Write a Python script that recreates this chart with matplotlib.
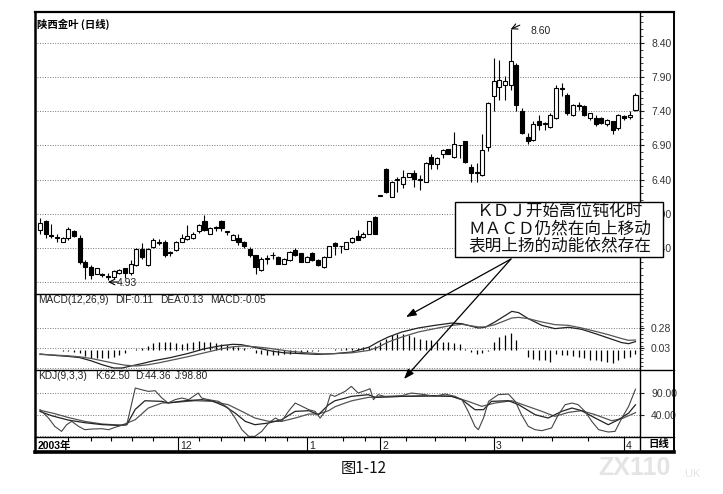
import matplotlib
matplotlib.use('Agg')
import matplotlib.pyplot as plt
from matplotlib.patches import Rectangle, FancyArrowPatch
from matplotlib.lines import Line2D
from matplotlib.ticker import MultipleLocator
import numpy as np

plt.rcParams['font.family'] = ['Liberation Sans', 'Noto Sans CJK SC', 'DejaVu Sans']

# ---------------- data ----------------
title_text = '陕西金叶 (日线)'
opens = [5.66, 5.79, 5.58, 5.55, 5.49, 5.54, 5.64, 5.54, 5.20, 5.12,
         5.02, 5.01, 4.99, 4.98, 5.03, 5.10, 5.03, 5.15, 5.39, 5.15,
         5.41, 5.47, 5.49, 5.33, 5.37, 5.49, 5.53, 5.54, 5.64, 5.79,
         5.61, 5.69, 5.79, 5.63, 5.52, 5.54, 5.49, 5.39, 5.29, 5.07,
         5.24, 5.29, 5.27, 5.17, 5.22, 5.37, 5.32, 5.20, 5.32, 5.22,
         5.12, 5.27, 5.47, 5.42, 5.39, 5.48, 5.57, 5.56, 5.61, 5.85,
         6.16, 6.56, 6.15, 6.39, 6.34, 6.44, 6.50, 6.39, 6.37, 6.73,
         6.63, 6.78, 6.84, 6.73, 6.90, 6.96, 6.58, 6.51, 6.46, 6.88,
         7.62, 7.76, 7.79, 7.79, 8.08, 7.40, 7.03, 6.98, 7.25, 7.21,
         7.17, 7.30, 7.73, 7.64, 7.35, 7.49, 7.47, 7.30, 7.30, 7.30,
         7.21, 7.25, 7.15, 7.33, 7.31, 7.42]
highs = [5.84, 5.81, 5.75, 5.61, 5.56, 5.71, 5.66, 5.59, 5.22, 5.15,
         5.11, 5.03, 5.03, 5.08, 5.09, 5.11, 5.22, 5.40, 5.47, 5.40,
         5.54, 5.53, 5.51, 5.36, 5.50, 5.61, 5.74, 5.63, 5.75, 5.88,
         5.71, 5.72, 5.81, 5.64, 5.60, 5.61, 5.50, 5.41, 5.30, 5.26,
         5.29, 5.34, 5.28, 5.25, 5.36, 5.40, 5.33, 5.28, 5.34, 5.23,
         5.28, 5.43, 5.49, 5.43, 5.49, 5.56, 5.66, 5.63, 5.80, 5.86,
         6.16, 6.57, 6.38, 6.44, 6.54, 6.50, 6.54, 6.46, 6.65, 6.78,
         6.73, 6.85, 6.85, 7.09, 6.91, 6.97, 6.63, 6.64, 7.07, 7.53,
         8.18, 8.15, 7.91, 8.60, 8.10, 7.45, 7.08, 7.26, 7.35, 7.24,
         7.37, 7.79, 7.81, 7.66, 7.51, 7.54, 7.49, 7.38, 7.35, 7.31,
         7.29, 7.26, 7.36, 7.34, 7.41, 7.66]
lows = [5.61, 5.55, 5.55, 5.49, 5.48, 5.52, 5.56, 5.17, 4.95, 4.95,
        5.01, 4.98, 4.93, 4.95, 5.02, 4.96, 5.00, 5.13, 5.24, 5.14,
        5.40, 5.44, 5.27, 5.28, 5.36, 5.48, 5.52, 5.53, 5.62, 5.64,
        5.60, 5.65, 5.65, 5.59, 5.51, 5.44, 5.40, 5.27, 5.02, 5.06,
        5.17, 5.24, 5.16, 5.16, 5.21, 5.28, 5.19, 5.19, 5.21, 5.13,
        5.11, 5.26, 5.29, 5.32, 5.38, 5.47, 5.51, 5.55, 5.60, 5.60,
        6.16, 6.20, 6.14, 6.22, 6.27, 6.43, 6.29, 6.24, 6.36, 6.56,
        6.56, 6.72, 6.77, 6.71, 6.71, 6.64, 6.37, 6.37, 6.45, 6.82,
        7.40, 7.57, 7.57, 7.71, 7.40, 7.06, 6.92, 6.96, 7.13, 7.13,
        7.16, 7.28, 7.62, 7.35, 7.33, 7.42, 7.33, 7.27, 7.18, 7.21,
        7.19, 7.07, 7.12, 7.27, 7.29, 7.41]
closes = [5.76, 5.61, 5.57, 5.55, 5.55, 5.67, 5.57, 5.20, 5.12, 5.00,
          5.10, 5.00, 4.98, 5.06, 5.08, 5.03, 5.17, 5.39, 5.27, 5.39,
          5.51, 5.47, 5.29, 5.32, 5.49, 5.54, 5.57, 5.61, 5.74, 5.66,
          5.69, 5.695, 5.69, 5.63, 5.59, 5.49, 5.42, 5.29, 5.12, 5.24,
          5.24, 5.29, 5.17, 5.24, 5.34, 5.29, 5.20, 5.27, 5.22, 5.15,
          5.27, 5.42, 5.42, 5.42, 5.48, 5.54, 5.52, 5.61, 5.79, 5.61,
          6.16, 6.22, 6.37, 6.40, 6.44, 6.49, 6.41, 6.39, 6.64, 6.63,
          6.72, 6.83, 6.78, 6.92, 6.90, 6.66, 6.49, 6.49, 6.83, 7.52,
          7.84, 7.86, 7.84, 8.13, 7.49, 7.08, 6.96, 7.22, 7.20, 7.22,
          7.35, 7.74, 7.74, 7.37, 7.49, 7.47, 7.35, 7.37, 7.22, 7.23,
          7.27, 7.13, 7.35, 7.30, 7.34, 7.64]

price_ticks = [5.40, 5.90, 6.40, 6.90, 7.40, 7.90, 8.40]
price_grid = [4.90, 5.40, 5.90, 6.40, 6.90, 7.40, 7.90, 8.40]

macd_hist = [0.01, 0.01, 0.0, 0.0, -0.005, -0.01, -0.015, -0.03, -0.07, -0.09,
             -0.10, -0.10, -0.095, -0.085, -0.06, -0.03, 0.0, 0.02, 0.03, 0.05,
             0.09, 0.11, 0.10, 0.10, 0.09, 0.085, 0.095, 0.11, 0.115, 0.11,
             0.10, 0.095, 0.08, 0.07, 0.055, 0.04, 0.025, 0.0, -0.03, -0.05,
             -0.06, -0.06, -0.055, -0.05, -0.04, -0.03, -0.02, -0.015, -0.01, -0.005,
             0.0, 0.01, 0.02, 0.02, 0.03, 0.03, 0.035, 0.04, 0.045, 0.06,
             0.10, 0.145, 0.19, 0.205, 0.205, 0.19, 0.165, 0.145, 0.135, 0.125,
             0.11, 0.104, 0.10, 0.095, 0.08, 0.02, -0.02, -0.04, -0.033, -0.01,
             0.11, 0.17, 0.195, 0.22, 0.125, 0.0, -0.08, -0.11, -0.125, -0.125,
             -0.145, -0.05, -0.055, -0.06, -0.075, -0.083, -0.10, -0.115, -0.125, -0.137,
             -0.15, -0.155, -0.125, -0.095, -0.083, -0.05]
dif_x = [1, 4, 6, 8, 10, 12, 14, 15.5, 17, 19, 21, 24, 27, 30, 33, 35, 36.5, 38, 40, 42,
         44, 47, 50, 53, 56, 59, 60.6, 62.4, 64.8, 67.7, 70.6, 73.6, 75.4, 76.5, 78.3,
         79.5, 81.2, 84.2, 85.4, 87.1, 89.5, 91.8, 94.2, 96.5, 98.9, 101.2, 103.6, 104.8, 106]
dif_v = [-0.045, -0.065, -0.075, -0.09, -0.13, -0.18, -0.22, -0.22, -0.195, -0.165, -0.13,
         -0.09, -0.04, 0.02, 0.06, 0.076, 0.072, 0.05, 0.02, -0.01, -0.03, -0.04, -0.05,
         -0.04, -0.02, 0.04, 0.105, 0.167, 0.23, 0.28, 0.313, 0.342, 0.334, 0.313, 0.28,
         0.289, 0.355, 0.488, 0.472, 0.397, 0.313, 0.272, 0.289, 0.264, 0.21, 0.155, 0.097,
         0.084, 0.11]
dea_x = [1, 4, 6, 8, 10, 12, 14, 16, 18, 20, 22, 24, 27, 30, 33, 35, 37, 39, 41, 43, 45,
         48, 51, 53, 56, 59, 60.6, 62.4, 64.8, 67.7, 70.6, 73.6, 75.4, 76.5, 78.3, 79.5,
         81.2, 84.2, 85.4, 87.1, 89.5, 91.8, 94.2, 96.5, 98.9, 101.2, 103.6, 104.8, 106]
dea_v = [-0.05, -0.06, -0.068, -0.08, -0.10, -0.13, -0.16, -0.185, -0.195, -0.18, -0.155,
         -0.125, -0.08, -0.03, 0.02, 0.045, 0.055, 0.045, 0.03, 0.01, -0.01, -0.03, -0.045,
         -0.04, -0.03, 0.0, 0.04, 0.105, 0.167, 0.23, 0.272, 0.313, 0.326, 0.313, 0.293,
         0.293, 0.322, 0.405, 0.413, 0.397, 0.355, 0.322, 0.313, 0.28, 0.239, 0.197, 0.147,
         0.126, 0.13]
macd_ticks = [0.03, 0.28]
macd_grid = [-0.22, 0.03, 0.28]

k_x = [1, 3.1, 6, 8.9, 11.9, 14.8, 16.3, 17.8, 19.5, 22.5, 23.6, 26.6, 29.5, 31.3, 33.6,
       35.4, 37.2, 38.9, 41.3, 43.6, 46, 48.4, 50.1, 51.9, 53, 54.8, 55.9, 58.9, 60.1,
       64.8, 70.6, 73.6, 75.4, 77.7, 79.2, 80.6, 83.6, 85.4, 88.3, 90.6, 93, 94.8, 96.5,
       98.9, 101.2, 103, 104.8, 106]
k_v = [47, 37, 27, 21, 16.5, 14.8, 16.3, 52, 72, 70.6, 66.7, 72.1, 74.5, 72.1, 59.0,
       43.4, 24.1, 16.3, 20.2, 27.9, 47.3, 48.9, 39.6, 62.8, 72.0, 78.0, 82.2, 86.1, 79.9,
       82.2, 83.8, 82.2, 74.5, 51.2, 51.2, 70.6, 72.1, 62.8, 39.6, 31.8, 47.3, 55.1, 48.9,
       31.8, 16.3, 27.9, 43.4, 62.5]
d_x = [1, 3.6, 6, 8.9, 11.9, 15.4, 17.8, 20.1, 22.5, 24.8, 28.4, 31.3, 34.2, 36.6, 38.9,
       41.3, 43.6, 46, 48.4, 50.1, 51.9, 53, 54.8, 56, 58.9, 64.8, 70.6, 73.6, 76.5, 78.9,
       81.2, 84.2, 86.5, 89.5, 91.8, 94.2, 96.5, 98.9, 101.8, 103.6, 106]
d_v = [50, 42, 33, 24, 18, 15, 28, 55.1, 66.7, 68.3, 72.1, 70.6, 62.8, 47.3, 31.8, 24.1,
       24.1, 31.8, 41.1, 41.1, 48.9, 58.0, 66.7, 72.0, 79.9, 82.2, 83.0, 82.2, 70.6, 59.0,
       66.7, 72.1, 61.3, 47.3, 35.7, 45.0, 48.9, 39.6, 25.6, 30.3, 44.36]
j_x = [1, 2.5, 3.6, 4.8, 5.7, 6.6, 7.8, 8.9, 10.1, 11.9, 13.1, 14.2, 15.4, 16.3, 17.8,
       18.9, 20.1, 21.3, 22.5, 23.6, 24.8, 26, 27.2, 28.9, 29.5, 30.7, 32.5, 34.2, 35.4,
       36.6, 37.8, 38.9, 40.1, 41.3, 42.5, 43.6, 44.8, 46, 47.2, 48.4, 49.5, 50.4, 51.3,
       52.2, 53, 54.8, 55.9, 57.1, 58.3, 59.2, 59.8, 60.6, 61.8, 64.8, 66.5, 68.9, 70.6,
       72.4, 74.2, 75.4, 76.5, 77.7, 78.3, 79.2, 80.1, 81.8, 83.6, 84.8, 85.9, 87.1, 88.3,
       89.5, 91.2, 92.4, 93.6, 94.8, 95.9, 97.1, 98.3, 99.5, 101.2, 102.4, 103.6, 104.8, 106]
j_v = [51.2, 31.8, 12.4, 0.8, 16.3, 24.1, 12.4, 4.7, 6.2, 7.0, 4.7, 10.1, 14.8, 16.3,
       101.6, 97.7, 93.8, 95.4, 78.3, 66.7, 74.5, 78.3, 74.5, 90.0, 78.3, 74.5, 70.6, 55.1,
       31.8, 4.7, -10.8, -10.8, 0.8, 20.2, 31.8, 24.1, 47.3, 66.7, 59.0, 51.2, 47.3, 31.8,
       47.3, 86.1, 82.2, 93.8, 105.5, 90.0, 95.4, 100.0, 74.5, 86.1, 82.2, 83.8, 90.0, 86.1,
       82.2, 87.6, 82.2, 74.5, 47.3, 12.4, 4.7, 31.8, 70.6, 86.1, 87.6, 70.6, 39.6, 12.4,
       4.7, 2.4, 8.6, 39.6, 62.8, 66.7, 62.8, 47.3, 24.1, 4.7, -0.7, 0.8, 31.8, 59.0, 98.8]
kdj_ticks = [40, 90]
kdj_grid = [-10, 40, 90]

month_pos = [25.4, 48.1, 61, 81, 103.9]
month_labels = ['12', '1', '2', '3', '4']
week_pos = [6, 10, 13.5, 17.2, 21, 29, 33, 37, 40.7, 44.5, 54.5, 58.3, 65.6, 70.6, 76,
            86, 91.2, 97.7]

# ---------------- figure ----------------
W, H = 723, 494
fig = plt.figure(figsize=(W / 100, H / 100), dpi=100)
fig.patch.set_facecolor('white')


def fx(px):
    return px / W


def fy(py):
    return 1 - py / H


L_PX, R_PX = 37, 640


def add_ax(top, bottom):
    ax = fig.add_axes([fx(L_PX), fy(bottom), (R_PX - L_PX) / W, (bottom - top) / H])
    for s in ax.spines.values():
        s.set_visible(False)
    ax.set_facecolor('none')
    return ax


XLIM = (0.47, 106.8)
idx = np.arange(1, len(closes) + 1)
gridkw = dict(color='#777777', lw=0.7, ls=(0, (1, 1.6)), zorder=1)
tickkw = dict(labelsize=7.5, labelcolor='#333333', colors='#222222')

# price panel
axp = add_ax(12, 293)
axp.set_xlim(*XLIM)
axp.set_ylim(4.739, 8.853)
for g in price_grid:
    axp.axhline(g, **gridkw)
o = np.array(opens); c = np.array(closes); h = np.array(highs); l = np.array(lows)
up = c >= o
axp.vlines(idx, l, h, colors='black', lw=0.8, zorder=2)
axp.bar(idx, np.maximum(np.abs(c - o), 0.012), bottom=np.minimum(o, c), width=0.72,
        color=['white' if u else 'black' for u in up], edgecolor='black', linewidth=0.8,
        zorder=3)
axp.set_xticks([])
axp.yaxis.tick_right()
axp.set_yticks(price_ticks)
axp.set_yticklabels([f'{t:.2f}' for t in price_ticks])
axp.yaxis.set_minor_locator(MultipleLocator(0.1))
axp.tick_params(axis='y', which='major', length=3, pad=5, **tickkw)
axp.tick_params(axis='y', which='minor', length=2, colors='#222222')
axp.text(0.0, 0.975, title_text, transform=axp.transAxes, fontsize=7.5,
         fontweight='bold', va='top', ha='left',
         family=['Noto Sans CJK SC', 'DejaVu Sans'])
hi_i = int(np.argmax(h)) + 1
lo_i = int(np.argmin(l)) + 1
axp.annotate('', xy=(hi_i, h[hi_i - 1]), xytext=(hi_i + 1.6, h[hi_i - 1] + 0.06),
             arrowprops=dict(arrowstyle='->', lw=0.8, color='black', shrinkA=0, shrinkB=0))
axp.text(hi_i + 3.5, h[hi_i - 1] - 0.025, f'{h[hi_i - 1]:.2f}', fontsize=7.5,
         va='center', ha='left', color='#222222')
axp.annotate('', xy=(lo_i, l[lo_i - 1] - 0.03), xytext=(lo_i + 1.7, l[lo_i - 1] - 0.03),
             arrowprops=dict(arrowstyle='->', lw=0.8, color='black', shrinkA=0, shrinkB=0))
axp.text(lo_i + 1.6, l[lo_i - 1] - 0.05, f'{l[lo_i - 1]:.2f}', fontsize=7.5,
         va='center', ha='left', color='#222222')

# MACD panel
axm = add_ax(294, 370)
axm.set_xlim(*XLIM)
axm.set_ylim(-0.245, 0.705)
for g in macd_grid:
    axm.axhline(g, **gridkw)
axm.vlines(idx, 0, macd_hist, colors='black', lw=0.9, zorder=2)
axm.plot(dif_x, dif_v, color='#222222', lw=0.9, zorder=3)
axm.plot(dea_x, dea_v, color='#555555', lw=0.9, zorder=3)
axm.set_xticks([])
axm.yaxis.tick_right()
axm.set_yticks(macd_ticks)
axm.set_yticklabels([f'{t:.2f}' for t in macd_ticks])
axm.yaxis.set_minor_locator(MultipleLocator(0.05))
axm.tick_params(axis='y', which='major', length=3, pad=5, **tickkw)
axm.tick_params(axis='y', which='minor', length=2, colors='#222222')
for xpx, s in [(38, 'MACD(12,26,9)'), (115, f'DIF:{dif_v[-1]:.2f}'),
               (160, f'DEA:{dea_v[-1]:.2f}'), (210, f'MACD:{macd_hist[-1]:.2f}')]:
    fig.text(fx(xpx), fy(300), s, fontsize=7.3, va='center', ha='left',
             color='#222222')

# KDJ panel
axk = add_ax(370, 437)
axk.set_xlim(*XLIM)
axk.set_ylim(-12.3, 143.5)
for g in kdj_grid:
    axk.axhline(g, **gridkw)
axk.plot(d_x, d_v, color='#555555', lw=0.9, zorder=3)
axk.plot(k_x, k_v, color='#222222', lw=0.9, zorder=3)
axk.plot(j_x, j_v, color='#444444', lw=0.8, zorder=3)
axk.set_xticks([])
axk.yaxis.tick_right()
axk.set_yticks(kdj_ticks)
axk.set_yticklabels([f'{t:.2f}' for t in kdj_ticks])
axk.tick_params(axis='y', which='major', length=3, pad=5, **tickkw)
for xpx, s in [(38, 'KDJ(9,3,3)'), (95, f'K:{k_v[-1]:.2f}'),
               (135, f'D:{d_v[-1]:.2f}'), (175, f'J:{j_v[-1]:.2f}')]:
    fig.text(fx(xpx), fy(376), s, fontsize=7.3, va='center', ha='left',
             color='#222222')

# date row
axd = add_ax(437, 452)
axd.set_xlim(*XLIM)
axd.set_ylim(0, 1)
axd.set_xticks([]); axd.set_yticks([])
axd.vlines(month_pos, 0, 1, colors='black', lw=0.8)
axd.vlines(week_pos, 0.72, 1, colors='black', lw=0.8)
axd.text(0.6, 0.42, '2003年', fontsize=7.5, va='center', ha='left', fontweight='bold',
         family=['Liberation Sans', 'Noto Sans CJK SC'])
for p, s in zip(month_pos, month_labels):
    axd.text(p + 0.4, 0.42, s, fontsize=7.5, va='center', ha='left', color='#222222')
fig.text(fx(648), fy(444), '日线', fontsize=7.5, va='center', ha='left',
         family=['Noto Sans CJK SC', 'DejaVu Sans'], fontweight='bold')


# frame lines
def fline(x0, y0, x1, y1, lw=1.0, color='black'):
    fig.add_artist(Line2D([fx(x0), fx(x1)], [fy(y0), fy(y1)], lw=lw, color=color,
                          zorder=6))


fline(35, 12, 674, 12, 1.6)
fline(35, 12, 35, 452, 1.8)
fline(674, 12, 674, 452, 1.4)
fline(35, 452, 674, 452, 2.6)
fline(35, 294, 640, 294, 1.0)
fline(35, 370, 674, 370, 1.0)
fline(35, 437, 674, 437, 1.0)
fline(640, 12, 640, 452, 1.0)

# annotation box and arrows
box = Rectangle((fx(455), fy(257)), (663 - 455) / W, (257 - 202) / H,
                transform=fig.transFigure, facecolor='white', edgecolor='black',
                lw=1.0, zorder=10)
fig.add_artist(box)
box_lines = ['ＫＤＪ开始高位钝化时', 'ＭＡＣＤ仍然在向上移动', '表明上扬的动能依然存在']
for yy, s in zip([211, 229, 247], box_lines):
    fig.text(fx(560), fy(yy), s, fontsize=12, ha='center', va='center', zorder=11,
             family=['Noto Sans CJK SC', 'DejaVu Sans'], color='#111111')
for end in [(406, 317), (404, 379)]:
    arr = FancyArrowPatch((fx(511), fy(259)), (fx(end[0]), fy(end[1])),
                          transform=fig.transFigure,
                          arrowstyle='-|>,head_length=6,head_width=2.2',
                          lw=0.9, color='black', zorder=12, shrinkA=0, shrinkB=0,
                          mutation_scale=1)
    fig.add_artist(arr)

# caption and watermark
fig.text(fx(364), fy(468), '图1-12', fontsize=11, ha='center', va='center',
         family=['Noto Sans CJK SC', 'DejaVu Sans'], color='#111111')
fig.text(fx(598), fy(468), 'ZX110', fontsize=18, ha='left', va='center',
         color='#e4e4e4', fontweight='bold')
fig.text(fx(682), fy(474), '.UK', fontsize=8, ha='left', va='center', color='#e4e4e4')

fig.savefig('out.png', dpi=100, facecolor='white')
